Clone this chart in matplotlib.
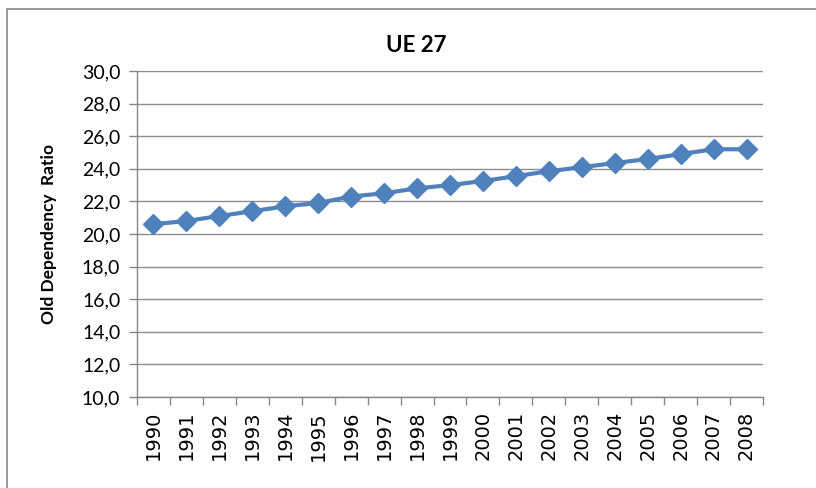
import matplotlib.pyplot as plt
from matplotlib.patches import Rectangle
from matplotlib.ticker import FuncFormatter, FixedLocator

# Datos
years = [str(y) for y in range(1990, 2009)]
ratio = [20.6, 20.8, 21.1, 21.4, 21.7, 21.9, 22.3, 22.5, 22.8, 23.0,
         23.25, 23.55, 23.85, 24.1, 24.35, 24.6, 24.9, 25.2, 25.2]

plt.rcParams['font.family'] = ['Lato', 'DejaVu Sans']

fig = plt.figure(figsize=(8.16, 4.88), dpi=100)
ax = fig.add_axes([137 / 816, 1 - 397 / 488, (763 - 137) / 816, (397 - 71) / 488])

# Marco exterior del grafico
fig.patches.append(Rectangle((7 / 816, -0.1), 1.2, 1.1 - 9 / 488,
                             transform=fig.transFigure, fill=False,
                             edgecolor='#888888', linewidth=1.2))

x = list(range(len(years)))
ax.plot(x, ratio, color='#4F81BD', linewidth=3.0, marker='D',
        markersize=10, markeredgecolor='#4F81BD')

ax.set_xlim(-0.5, len(years) - 0.5)
ax.set_ylim(10, 30)
ax.set_yticks(range(10, 31, 2))
ax.yaxis.set_major_formatter(FuncFormatter(lambda v, p: f'{v:.1f}'.replace('.', ',')))
ax.grid(axis='y', color='#8c8c8c', linewidth=1)
ax.set_axisbelow(True)

# Etiquetas de los años en el centro, marcas entre categorias
ax.set_xticks(x)
ax.set_xticklabels(years, rotation=90, fontsize=14, family='DejaVu Sans')
ax.tick_params(axis='x', which='major', length=0, pad=10)
ax.xaxis.set_minor_locator(FixedLocator([i - 0.5 for i in range(len(years) + 1)]))
ax.tick_params(axis='x', which='minor', length=6, color='#868686', width=1)
ax.tick_params(axis='y', length=6, color='#868686', width=1, labelsize=14, pad=6)

for s in ['top', 'right']:
    ax.spines[s].set_visible(False)
for s in ['left', 'bottom']:
    ax.spines[s].set_color('#868686')
    ax.spines[s].set_linewidth(1)

ax.set_ylabel('Old Dependency  Ratio', fontsize=12.5, fontweight='bold')
ax.yaxis.set_label_coords(-(137 - 57) / 626, 0.5)
fig.text(416 / 816, 1 - 45 / 488, 'UE 27', fontsize=16, fontweight='bold',
         ha='center', va='center')

fig.savefig('out.png', dpi=100)
